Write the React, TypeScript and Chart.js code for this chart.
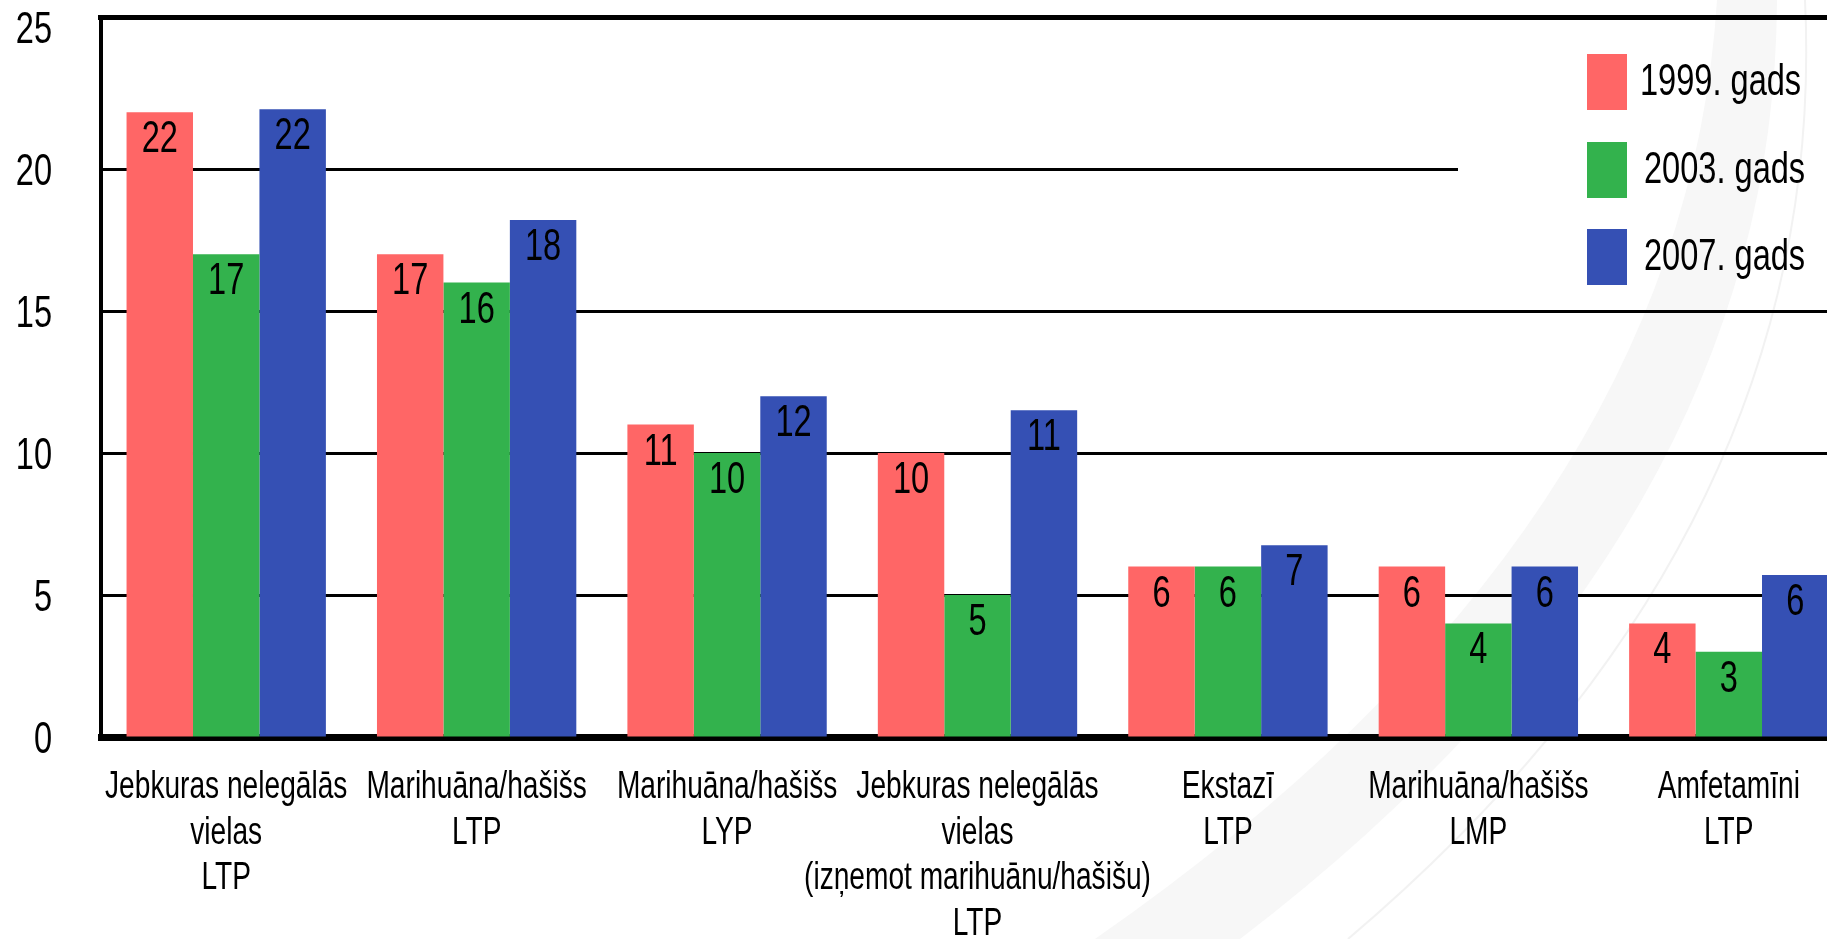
import React, { useEffect, useRef } from 'react';
import { Chart, registerables } from 'chart.js';

Chart.register(...registerables);

const categories: string[][] = [
  ['Jebkuras nelegālās', 'vielas', 'LTP'],
  ['Marihuāna/hašišs', 'LTP'],
  ['Marihuāna/hašišs', 'LYP'],
  ['Jebkuras nelegālās', 'vielas', '(izņemot marihuānu/hašišu)', 'LTP'],
  ['Ekstazī', 'LTP'],
  ['Marihuāna/hašišs', 'LMP'],
  ['Amfetamīni', 'LTP'],
];

const seriesNames = ['1999. gads', '2003. gads', '2007. gads'];
const seriesColors = ['#ff6666', '#33b24d', '#3550b4'];

const values1999 = [22, 17, 11, 10, 6, 6, 4];
const values2003 = [17, 16, 10, 5, 6, 4, 3];
const values2007 = [22.1, 18.2, 12, 11.5, 6.75, 6, 5.7];

const labels1999 = ['22', '17', '11', '10', '6', '6', '4'];
const labels2003 = ['17', '16', '10', '5', '6', '4', '3'];
const labels2007 = ['22', '18', '12', '11', '7', '6', '6'];

const yTicks = [0, 5, 10, 15, 20, 25];
const yMax = 25.35;

const FONT = '"Liberation Sans", Arial, sans-serif';
const NARROW = 0.74;

const W = 1854;
const H = 939;

export default function App() {
  const ref = useRef<HTMLCanvasElement | null>(null);

  useEffect(() => {
    const canvas = ref.current;
    if (!canvas) return;
    const valueLabels = [labels1999, labels2003, labels2007];

    // Condensed text rendering: draw every text horizontally compressed around its anchor.
    const c2d = canvas.getContext('2d') as any;
    const origFillText = c2d.fillText;
    c2d.fillText = function (text: string, x: number, y: number, maxWidth?: number) {
      this.save();
      this.translate(x, y);
      this.scale(NARROW, 1);
      if (maxWidth === undefined || maxWidth === null) origFillText.call(this, text, 0, 0);
      else origFillText.call(this, text, 0, 0, maxWidth / NARROW);
      this.restore();
    };

    const bgPlugin = {
      id: 'bgSwoosh',
      beforeDraw(chart: any) {
        const ctx = chart.ctx;
        ctx.save();
        ctx.fillStyle = '#ffffff';
        ctx.fillRect(0, 0, chart.width, chart.height);
        ctx.fillStyle = '#f7f7f7';
        ctx.beginPath();
        ctx.moveTo(1717, 0);
        ctx.quadraticCurveTo(1684, 530, 1095, 939);
        ctx.lineTo(1240, 939);
        ctx.quadraticCurveTo(1775, 530, 1777, 0);
        ctx.closePath();
        ctx.fill();
        ctx.strokeStyle = '#f2f2f2';
        ctx.lineWidth = 2;
        ctx.beginPath();
        ctx.moveTo(1805, 0);
        ctx.quadraticCurveTo(1830, 530, 1348, 939);
        ctx.stroke();
        ctx.restore();
      },
    };

    const gridPlugin = {
      id: 'customGrid',
      beforeDatasetsDraw(chart: any) {
        const ctx = chart.ctx;
        const area = chart.chartArea;
        const y = chart.scales.y;
        ctx.save();
        ctx.strokeStyle = '#000';
        ctx.lineWidth = 3;
        yTicks.forEach((v) => {
          if (v === 0 || v === 25) return;
          const py = Math.round(y.getPixelForValue(v)) + 0.5;
          const xEnd = v === 20 ? 1458 : area.right;
          ctx.beginPath();
          ctx.moveTo(area.left, py);
          ctx.lineTo(xEnd, py);
          ctx.stroke();
        });
        ctx.lineWidth = 5;
        ctx.beginPath();
        ctx.moveTo(area.left - 3, area.top + 0.5);
        ctx.lineTo(area.right, area.top + 0.5);
        ctx.stroke();
        ctx.restore();
      },
    };

    const valuePlugin = {
      id: 'valueLabels',
      afterDatasetsDraw(chart: any) {
        const ctx = chart.ctx;
        ctx.save();
        ctx.fillStyle = '#000';
        ctx.font = `44px ${FONT}`;
        ctx.textAlign = 'center';
        ctx.textBaseline = 'alphabetic';
        chart.data.datasets.forEach((ds: any, di: number) => {
          const meta = chart.getDatasetMeta(di);
          meta.data.forEach((el: any, i: number) => {
            ctx.fillText(valueLabels[di][i], el.x, el.y + 40);
          });
        });
        ctx.restore();
      },
    };

    const legendPlugin = {
      id: 'customLegend',
      afterDraw(chart: any) {
        const ctx = chart.ctx;
        ctx.save();
        ctx.font = `44px ${FONT}`;
        ctx.textAlign = 'left';
        ctx.textBaseline = 'alphabetic';
        chart.data.datasets.forEach((ds: any, i: number) => {
          const top = 54 + i * 87.5;
          ctx.fillStyle = ds.backgroundColor;
          ctx.fillRect(1587, Math.round(top), 40, 56);
          ctx.fillStyle = '#000';
          ctx.fillText(ds.label, i === 0 ? 1640 : 1644, Math.round(top) + 41);
        });
        ctx.restore();
      },
    };

    const chart = new Chart(canvas, {
      type: 'bar',
      data: {
        labels: categories,
        datasets: [
          { label: seriesNames[0], data: values1999, backgroundColor: seriesColors[0] },
          { label: seriesNames[1], data: values2003, backgroundColor: seriesColors[1] },
          { label: seriesNames[2], data: values2007, backgroundColor: seriesColors[2] },
        ],
      },
      options: {
        responsive: false,
        animation: false,
        devicePixelRatio: 1,
        layout: { padding: { top: 17, left: 0, right: 0, bottom: 0 } },
        datasets: {
          bar: { barPercentage: 1, categoryPercentage: 0.796, borderWidth: 0 },
        },
        plugins: {
          legend: { display: false },
          tooltip: { enabled: false },
          title: { display: false },
        },
        scales: {
          x: {
            offset: true,
            grid: { display: true, drawOnChartArea: false, drawTicks: false },
            border: { display: true, width: 7, color: '#000' },
            ticks: {
              color: '#000',
              font: { family: FONT, size: 38, lineHeight: 1.2 },
              padding: 28,
              maxRotation: 0,
              minRotation: 0,
              autoSkip: false,
            },
            afterFit(s: any) {
              s.height = 202;
              s.paddingLeft = 0;
              s.paddingRight = 0;
            },
          },
          y: {
            min: 0,
            max: yMax,
            grid: { display: true, drawOnChartArea: false, drawTicks: false },
            border: { display: true, width: 4, color: '#000' },
            ticks: {
              color: '#000',
              font: { family: FONT, size: 44 },
              padding: 49,
              labelOffset: 4,
            },
            afterBuildTicks(s: any) {
              s.ticks = yTicks.map((v) => ({ value: v }));
            },
            afterFit(s: any) {
              s.width = 101;
              s.paddingTop = 0;
              s.paddingBottom = 0;
            },
          },
        },
      },
      plugins: [bgPlugin, gridPlugin, valuePlugin, legendPlugin],
    } as any);

    return () => {
      chart.destroy();
      c2d.fillText = origFillText;
    };
  }, []);

  return (
    <div
      style={{
        position: 'fixed',
        left: 0,
        top: 0,
        width: '1827px',
        height: '939px',
        overflow: 'hidden',
        background: '#fff',
      }}
    >
      <canvas ref={ref} width={W} height={H} style={{ display: 'block', width: `${W}px`, height: `${H}px` }} />
    </div>
  );
}
